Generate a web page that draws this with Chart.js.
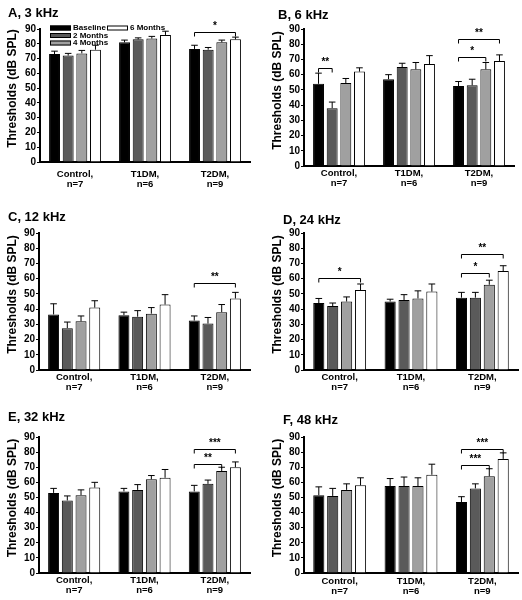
<!DOCTYPE html>
<html>
<head>
<meta charset="utf-8">
<script src="https://cdn.jsdelivr.net/npm/chart.js@4.4.0/dist/chart.umd.min.js"></script>
<style>
body { margin: 0; background: #fff; }
.panel { position: absolute; width: 261px; height: 200px; }
</style>
</head>
<body>
<div class="panel" style="left:0px;top:0px"><canvas id="pA" width="261" height="200"></canvas></div>
<div class="panel" style="left:261px;top:0px"><canvas id="pB" width="261" height="200"></canvas></div>
<div class="panel" style="left:0px;top:200px"><canvas id="pC" width="261" height="200"></canvas></div>
<div class="panel" style="left:261px;top:200px"><canvas id="pD" width="261" height="200"></canvas></div>
<div class="panel" style="left:0px;top:400px"><canvas id="pE" width="261" height="200"></canvas></div>
<div class="panel" style="left:261px;top:400px"><canvas id="pF" width="261" height="200"></canvas></div>
<script>
// groups and series
const groups = [['Control,', 'n=7'], ['T1DM,', 'n=6'], ['T2DM,', 'n=9']];
const seriesNames = ['Baseline', '2 Months', '4 Months', '6 Months'];
const seriesColors = ['#000000', '#5a5a5a', '#a0a0a0', '#ffffff'];
const yTicks = [0, 90, 10]; // min, max, step
const yTitle = 'Thresholds (dB SPL)';

// thresholds, rows = series (baseline, 2, 4, 6 months), cols = groups
const thr3k = [[73, 81, 76.5], [72, 83, 76], [73.5, 83.5, 81], [76, 86, 83]];
const err3k = [[2, 1.5, 2.5], [1.5, 1, 1.5], [2, 1.5, 1.5], [3, 2.5, 1.5]];
const sig3k = [[2, 0, 3, 88, '*']]; // group, from series, to series, level, label

const thr6k = [[54, 57, 52.5], [38, 65, 53], [54.5, 63.5, 63.5], [62, 67, 69]];
const err6k = [[7, 3, 3], [4, 2.5, 4], [3, 4.5, 4.5], [2.5, 5.5, 4]];
const sig6k = [[0, 0, 1, 64.5, '**'], [2, 0, 2, 71.5, '*'], [2, 0, 3, 83.5, '**']];

const thr12k = [[36.5, 36, 32.5], [27.5, 35, 30.5], [32, 37, 38], [41, 43, 47]];
const err12k = [[7, 2, 3], [4, 4, 4], [3.5, 4, 5], [4.5, 6.5, 4]];
const sig12k = [[2, 0, 3, 57, '**']];

const thr24k = [[44, 45, 47.5], [42, 46, 47.5], [45, 47, 56], [52.5, 51.5, 65]];
const err24k = [[3, 1.5, 3.5], [2, 3.5, 3.5], [3, 5, 3], [4, 5, 3.5]];
const sig24k = [[0, 0, 3, 60.5, '*'], [2, 0, 2, 64, '*'], [2, 0, 3, 76, '**']];

const thr32k = [[53, 54, 54], [48, 55, 59], [51.5, 62, 67.5], [56.5, 63, 70]];
const err32k = [[3, 2, 4], [3, 3.5, 2.5], [3.5, 2.5, 2.5], [3.5, 5.5, 3.5]];
const sig32k = [[2, 0, 2, 72, '**'], [2, 0, 3, 82, '***']];

const thr48k = [[51.5, 57.5, 47], [51, 57.5, 56], [55, 57.5, 64], [58, 65, 75.5]];
const err48k = [[5.5, 5, 3.5], [5, 6, 3], [4, 5.5, 5], [5, 7, 4]];
const sig48k = [[2, 0, 2, 71.5, '***'], [2, 0, 3, 82, '***']];

const FONT = 'Arial, "Liberation Sans", sans-serif';

// draws titles, error bars, brackets and (panel A) the legend
const extras = {
  id: 'extras',
  afterDatasetsDraw(chart, args, opts) {
    const ctx = chart.ctx;
    const y = chart.scales.y;
    const area = chart.chartArea;
    ctx.save();
    ctx.strokeStyle = '#000';
    ctx.fillStyle = '#000';
    ctx.lineWidth = 1;

    // error bars (upper only)
    chart.data.datasets.forEach((ds, i) => {
      chart.getDatasetMeta(i).data.forEach((bar, j) => {
        const top = y.getPixelForValue(ds.data[j] + ds.err[j]);
        const cap = bar.width * 0.3;
        ctx.beginPath();
        ctx.moveTo(bar.x, bar.y);
        ctx.lineTo(bar.x, top);
        ctx.moveTo(bar.x - cap, top);
        ctx.lineTo(bar.x + cap, top);
        ctx.stroke();
      });
    });

    // significance brackets
    ctx.font = 'bold 10px ' + FONT;
    ctx.textAlign = 'center';
    ctx.textBaseline = 'bottom';
    opts.sig.forEach(s => {
      const x1 = chart.getDatasetMeta(s[1]).data[s[0]].x;
      const x2 = chart.getDatasetMeta(s[2]).data[s[0]].x;
      const yy = Math.round(y.getPixelForValue(s[3])) + 0.5;
      ctx.beginPath();
      ctx.moveTo(x1, yy + 4);
      ctx.lineTo(x1, yy);
      ctx.lineTo(x2, yy);
      ctx.lineTo(x2, yy + 4);
      ctx.stroke();
      ctx.fillText(s[4], (x1 + x2) / 2, yy - 1);
    });

    // y axis title, sits a little above the plot centre
    ctx.save();
    ctx.translate(opts.yx, (area.top + area.bottom) / 2 - 7);
    ctx.rotate(-Math.PI / 2);
    ctx.font = 'bold 12px ' + FONT;
    ctx.textBaseline = 'middle';
    ctx.fillText(yTitle, 0, 0);
    ctx.restore();

    // panel title
    ctx.font = 'bold 13px ' + FONT;
    ctx.textAlign = 'left';
    ctx.textBaseline = 'middle';
    ctx.fillText(opts.title, opts.tx, opts.ty);

    // legend
    if (opts.legend) {
      ctx.font = 'bold 8px ' + FONT;
      const spots = [[50, 28], [50, 35.5], [50, 43], [107, 28]];
      chart.data.datasets.forEach((ds, i) => {
        const [lx, ly] = spots[i];
        ctx.fillStyle = ds.backgroundColor;
        ctx.fillRect(lx, ly - 2.5, 21, 5);
        ctx.strokeRect(lx + 0.5, ly - 2, 20, 4);
        ctx.fillStyle = '#000';
        ctx.fillText(ds.label, lx + 23, ly);
      });
    }
    ctx.restore();
  }
};

function makePanel(id, thr, err, sig, lay) {
  new Chart(document.getElementById(id), {
    type: 'bar',
    data: {
      labels: groups,
      datasets: seriesNames.map((name, i) => ({
        label: name,
        data: thr[i],
        err: err[i],
        backgroundColor: seriesColors[i],
        borderColor: '#000',
        borderWidth: 1,
        categoryPercentage: 0.78,
        barPercentage: 0.8
      }))
    },
    options: {
      responsive: false,
      animation: false,
      layout: { padding: { left: 0, top: lay.top, right: lay.right, bottom: 0 } },
      plugins: {
        legend: { display: false },
        tooltip: { enabled: false },
        extras: { sig: sig, title: lay.title, tx: lay.tx, ty: lay.ty, yx: lay.yx, legend: !!lay.legend }
      },
      scales: {
        x: {
          afterFit: s => { s.height = lay.xh; },
          grid: { display: false, drawTicks: false },
          border: { display: true, color: '#000', width: 2 },
          ticks: { color: '#000', font: { family: FONT, size: 9.5, weight: 'bold', lineHeight: 1.05 }, padding: lay.lp, maxRotation: 0 }
        },
        y: {
          min: yTicks[0],
          max: yTicks[1],
          afterFit: s => { s.width = lay.w; },
          ticks: { stepSize: yTicks[2], autoSkip: false, color: '#000', padding: 1, font: { family: FONT, size: 10, weight: 'bold' } },
          grid: { display: true, drawOnChartArea: false, drawTicks: true, tickLength: 3, color: '#000', lineWidth: 1 },
          border: { display: true, color: '#000', width: 2 }
        }
      }
    },
    plugins: [extras]
  });
}

makePanel('pA', thr3k, err3k, sig3k, { title: 'A, 3 kHz', tx: 8, ty: 13, yx: 13, w: 40, top: 29, right: 11, xh: 38, lp: 7, legend: true });
makePanel('pB', thr6k, err6k, sig6k, { title: 'B, 6 kHz', tx: 17, ty: 15, yx: 17, w: 43, top: 29, right: 8, xh: 34, lp: 2 });
makePanel('pC', thr12k, err12k, sig12k, { title: 'C, 12 kHz', tx: 8, ty: 17, yx: 13, w: 39, top: 33, right: 11, xh: 30, lp: 2 });
makePanel('pD', thr24k, err24k, sig24k, { title: 'D, 24 kHz', tx: 22, ty: 20, yx: 17, w: 43, top: 33, right: 4, xh: 30, lp: 2 });
makePanel('pE', thr32k, err32k, sig32k, { title: 'E, 32 kHz', tx: 8, ty: 17, yx: 13, w: 39, top: 37, right: 11, xh: 27, lp: 2 });
makePanel('pF', thr48k, err48k, sig48k, { title: 'F, 48 kHz', tx: 22, ty: 20, yx: 17, w: 43, top: 37, right: 4, xh: 27, lp: 3 });
</script>
</body>
</html>
